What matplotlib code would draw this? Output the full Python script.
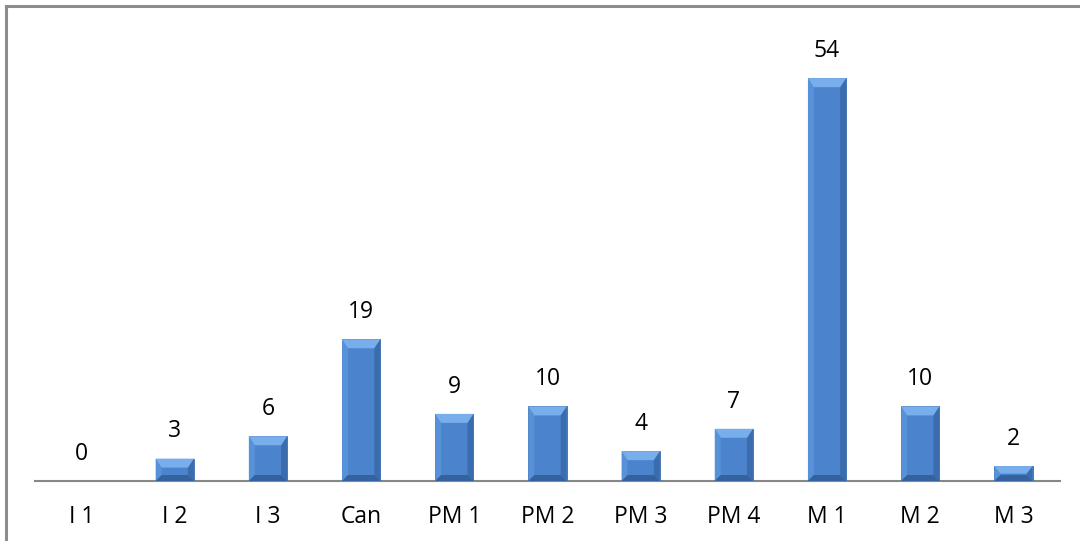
import matplotlib
matplotlib.use('Agg')
import matplotlib.pyplot as plt
from matplotlib.patches import Polygon
from matplotlib.lines import Line2D

categories = ['I 1', 'I 2', 'I 3', 'Can', 'PM 1', 'PM 2', 'PM 3', 'PM 4', 'M 1', 'M 2', 'M 3']
counts = [0, 3, 6, 19, 9, 10, 4, 7, 54, 10, 2]

plt.rcParams['font.family'] = ['Open Sans', 'DejaVu Sans']

fig = plt.figure(figsize=(10.8, 5.41), dpi=100)
ax = fig.add_axes([35 / 1080, 1 - 481 / 541, 1025 / 1080, 461 / 541])

ymax = 461 / 7.46
ax.set_xlim(-0.5, len(categories) - 0.5)
ax.set_ylim(0, ymax)

bars = ax.bar(range(len(categories)), counts, width=0.41, color='#4b84cd',
              edgecolor='#3d6fae', linewidth=0.6, zorder=2)

# bevel: ~6 px on the sides, ~9 px on top
bx = 6 / 93.2
by = 9 / 7.46
for b in bars:
    x0, w, h = b.get_x(), b.get_width(), b.get_height()
    if h <= 0:
        continue
    x1, y1 = x0 + w, h
    d = min(by, h / 2)
    db = min(6 / 7.46, h / 2)
    top = [(x0, y1), (x1, y1), (x1 - bx, y1 - d), (x0 + bx, y1 - d)]
    bot = [(x0, 0), (x1, 0), (x1 - bx, db), (x0 + bx, db)]
    left = [(x0, 0), (x0, y1), (x0 + bx, y1 - d), (x0 + bx, db)]
    right = [(x1, 0), (x1, y1), (x1 - bx, y1 - d), (x1 - bx, db)]
    ax.add_patch(Polygon(left, closed=True, color='#5791d8', lw=0, zorder=3))
    ax.add_patch(Polygon(right, closed=True, color='#3b6dae', lw=0, zorder=3))
    ax.add_patch(Polygon(bot, closed=True, color='#33629f', lw=0, zorder=3))
    ax.add_patch(Polygon(top, closed=True, color='#78aeec', lw=0, zorder=3))

for i, v in enumerate(counts):
    ax.annotate(str(v), (i, v), xytext=(0, 11), textcoords='offset points',
                ha='center', va='bottom', fontsize=16.5, color='black')

ax.set_xticks(range(len(categories)))
ax.set_xticklabels(categories, fontsize=16.5)
ax.tick_params(axis='x', length=0, pad=17)
ax.set_yticks([])
for s in ['top', 'right', 'left']:
    ax.spines[s].set_visible(False)
ax.spines['bottom'].set_color('#878787')
ax.spines['bottom'].set_linewidth(1.5)
ax.spines['bottom'].set_zorder(1)

# chart border (top and left edges visible)
fig.add_artist(Line2D([5.5 / 1080, 1], [1 - 5.5 / 541] * 2, color='#8c8c8c', lw=2.2))
fig.add_artist(Line2D([5.5 / 1080] * 2, [0, 1 - 5.5 / 541], color='#8c8c8c', lw=2.2))

fig.savefig('out.png', dpi=100)
